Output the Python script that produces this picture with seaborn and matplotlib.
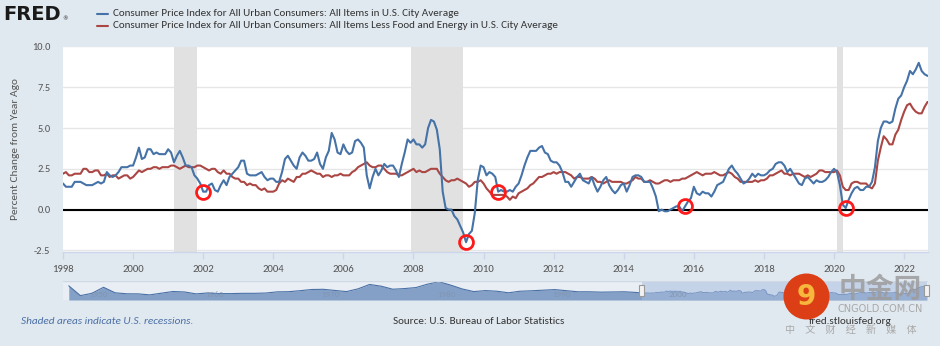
import numpy as np
import pandas as pd
import matplotlib
matplotlib.use("Agg")
import matplotlib.pyplot as plt
import seaborn as sns
from matplotlib import font_manager as fm
from matplotlib.patches import Rectangle, Ellipse
from matplotlib.lines import Line2D
import matplotlib.transforms as mtrans

# ---------------- data ----------------
# CPI all items, percent change from year ago, monthly Jan 1998 - Sep 2022
cpi_all = [
    1.6, 1.4, 1.4, 1.4, 1.7, 1.7, 1.7, 1.6, 1.5, 1.5, 1.5, 1.6,   # 1998
    1.7, 1.6, 1.7, 2.3, 2.1, 2.0, 2.1, 2.3, 2.6, 2.6, 2.6, 2.7,   # 1999
    2.7, 3.2, 3.8, 3.1, 3.2, 3.7, 3.7, 3.4, 3.5, 3.4, 3.4, 3.4,   # 2000
    3.7, 3.5, 2.9, 3.3, 3.6, 3.2, 2.7, 2.7, 2.6, 2.1, 1.9, 1.6,   # 2001
    1.1, 1.1, 1.5, 1.6, 1.2, 1.1, 1.5, 1.8, 1.5, 2.0, 2.2, 2.4,   # 2002
    2.6, 3.0, 3.0, 2.2, 2.1, 2.1, 2.1, 2.2, 2.3, 2.0, 1.8, 1.9,   # 2003
    1.9, 1.7, 1.7, 2.3, 3.1, 3.3, 3.0, 2.7, 2.5, 3.2, 3.5, 3.3,   # 2004
    3.0, 3.0, 3.1, 3.5, 2.8, 2.5, 3.2, 3.6, 4.7, 4.3, 3.5, 3.4,   # 2005
    4.0, 3.6, 3.4, 3.5, 4.2, 4.3, 4.1, 3.8, 2.1, 1.3, 2.0, 2.5,   # 2006
    2.1, 2.4, 2.8, 2.6, 2.7, 2.7, 2.4, 2.0, 2.8, 3.5, 4.3, 4.1,   # 2007
    4.3, 4.0, 4.0, 3.8, 4.0, 5.0, 5.5, 5.4, 4.9, 3.7, 1.1, 0.1,   # 2008
    0.0, 0.0, -0.4, -0.6, -1.0, -1.4, -2.0, -1.5, -1.3, -0.2, 1.8, 2.7,  # 2009
    2.6, 2.1, 2.3, 2.2, 2.0, 1.1, 1.2, 1.1, 1.1, 1.2, 1.1, 1.4,   # 2010
    1.6, 2.1, 2.7, 3.2, 3.6, 3.6, 3.6, 3.8, 3.9, 3.5, 3.4, 3.0,   # 2011
    2.9, 2.9, 2.7, 2.3, 1.7, 1.7, 1.4, 1.7, 2.0, 2.2, 1.8, 1.7,   # 2012
    1.6, 2.0, 1.5, 1.1, 1.4, 1.8, 2.0, 1.5, 1.2, 1.0, 1.2, 1.5,   # 2013
    1.6, 1.1, 1.5, 2.0, 2.1, 2.1, 2.0, 1.7, 1.7, 1.7, 1.3, 0.8,   # 2014
    -0.1, 0.0, -0.1, -0.1, 0.0, 0.1, 0.2, 0.2, -0.1, 0.2, 0.5, 0.7,  # 2015
    1.4, 1.0, 0.9, 1.1, 1.0, 1.0, 0.8, 1.1, 1.5, 1.6, 1.7, 2.1,   # 2016
    2.5, 2.7, 2.4, 2.2, 1.9, 1.6, 1.7, 1.9, 2.2, 2.0, 2.2, 2.1,   # 2017
    2.1, 2.2, 2.4, 2.5, 2.8, 2.9, 2.9, 2.7, 2.3, 2.5, 2.2, 1.9,   # 2018
    1.6, 1.5, 1.9, 2.0, 1.8, 1.6, 1.8, 1.7, 1.7, 1.8, 2.0, 2.3,   # 2019
    2.5, 2.3, 1.5, 0.3, 0.1, 0.6, 1.0, 1.3, 1.4, 1.2, 1.2, 1.4,   # 2020
    1.4, 1.7, 2.6, 4.2, 5.0, 5.4, 5.4, 5.3, 5.4, 6.2, 6.8, 7.0,   # 2021
    7.5, 7.9, 8.5, 8.3, 8.6, 9.0, 8.5, 8.3, 8.2,                  # 2022
]

# CPI less food and energy, percent change from year ago
cpi_core = [
    2.2, 2.3, 2.1, 2.1, 2.2, 2.2, 2.2, 2.5, 2.5, 2.3, 2.3, 2.4,   # 1998
    2.4, 2.1, 2.1, 2.2, 2.0, 2.1, 2.1, 1.9, 2.0, 2.1, 2.1, 1.9,   # 1999
    2.0, 2.2, 2.4, 2.3, 2.4, 2.5, 2.5, 2.6, 2.6, 2.5, 2.6, 2.6,   # 2000
    2.6, 2.7, 2.7, 2.6, 2.5, 2.6, 2.7, 2.6, 2.6, 2.6, 2.7, 2.7,   # 2001
    2.6, 2.5, 2.4, 2.5, 2.5, 2.3, 2.2, 2.4, 2.2, 2.2, 2.0, 1.9,   # 2002
    1.9, 1.7, 1.7, 1.5, 1.6, 1.5, 1.5, 1.3, 1.2, 1.3, 1.1, 1.1,   # 2003
    1.1, 1.2, 1.6, 1.8, 1.7, 1.9, 1.8, 1.7, 2.0, 2.0, 2.2, 2.2,   # 2004
    2.3, 2.4, 2.3, 2.2, 2.2, 2.0, 2.1, 2.1, 2.0, 2.1, 2.1, 2.2,   # 2005
    2.1, 2.1, 2.1, 2.3, 2.4, 2.6, 2.7, 2.8, 2.9, 2.7, 2.6, 2.6,   # 2006
    2.7, 2.7, 2.5, 2.3, 2.2, 2.2, 2.2, 2.1, 2.1, 2.2, 2.3, 2.4,   # 2007
    2.5, 2.3, 2.4, 2.3, 2.3, 2.4, 2.5, 2.5, 2.5, 2.2, 2.0, 1.8,   # 2008
    1.7, 1.8, 1.8, 1.9, 1.8, 1.7, 1.6, 1.4, 1.5, 1.7, 1.7, 1.8,   # 2009
    1.6, 1.3, 1.1, 0.9, 0.9, 0.9, 0.9, 0.9, 0.8, 0.6, 0.8, 0.7,   # 2010
    1.0, 1.1, 1.2, 1.3, 1.5, 1.6, 1.8, 2.0, 2.0, 2.1, 2.2, 2.2,   # 2011
    2.3, 2.2, 2.3, 2.3, 2.3, 2.2, 2.1, 1.9, 2.0, 2.0, 1.9, 1.9,   # 2012
    1.9, 2.0, 1.9, 1.7, 1.7, 1.6, 1.7, 1.8, 1.7, 1.7, 1.7, 1.7,   # 2013
    1.6, 1.6, 1.7, 1.8, 2.0, 1.9, 1.9, 1.7, 1.7, 1.8, 1.7, 1.6,   # 2014
    1.6, 1.7, 1.8, 1.8, 1.7, 1.8, 1.8, 1.8, 1.9, 1.9, 2.0, 2.1,   # 2015
    2.2, 2.3, 2.2, 2.1, 2.2, 2.2, 2.2, 2.3, 2.2, 2.1, 2.1, 2.2,   # 2016
    2.3, 2.2, 2.0, 1.9, 1.7, 1.7, 1.7, 1.7, 1.7, 1.8, 1.7, 1.8,   # 2017
    1.8, 1.9, 2.1, 2.1, 2.2, 2.3, 2.4, 2.2, 2.2, 2.1, 2.2, 2.2,   # 2018
    2.2, 2.1, 2.0, 2.1, 2.0, 2.1, 2.2, 2.4, 2.4, 2.3, 2.3, 2.3,   # 2019
    2.3, 2.4, 2.1, 1.4, 1.2, 1.2, 1.6, 1.7, 1.7, 1.6, 1.6, 1.6,   # 2020
    1.4, 1.3, 1.6, 3.0, 3.8, 4.5, 4.3, 4.0, 4.0, 4.6, 4.9, 5.5,   # 2021
    6.0, 6.4, 6.5, 6.2, 6.0, 5.9, 5.9, 6.3, 6.6,                  # 2022
]
start_month = "1998-01"

# Longer history for the navigator strip (annual, 1948-1997)
hist_years = list(range(1948, 1998))
hist_cpi = [9.5, -1.2, 1.3, 7.9, 1.9, 0.8, 0.7, -0.4, 1.5, 3.3,
            2.8, 0.7, 1.7, 1.0, 1.0, 1.3, 1.3, 1.6, 2.9, 3.1,
            4.2, 5.5, 5.7, 4.4, 3.2, 6.2, 11.0, 9.1, 5.8, 6.5,
            7.6, 11.3, 14.0, 10.3, 6.1, 3.2, 4.3, 3.6, 1.9, 3.6,
            4.1, 4.8, 5.4, 4.2, 3.0, 3.0, 2.6, 2.8, 3.0, 2.3]

recession_start = ["2001-03", "2007-12", "2020-02"]
recession_end = ["2001-11", "2009-06", "2020-04"]
marked_months = ["2002-01", "2009-07", "2010-06", "2015-10", "2020-05"]

x_ticks = list(range(1998, 2023, 2))
y_ticks = [-2.5, 0.0, 2.5, 5.0, 7.5, 10.0]
nav_ticks = [1950, 1960, 1970, 1980, 1990, 2000]

series_all = "Consumer Price Index for All Urban Consumers: All Items in U.S. City Average"
series_core = "Consumer Price Index for All Urban Consumers: All Items Less Food and Energy in U.S. City Average"
y_label = "Percent Change from Year Ago"

# ---------------- helpers ----------------
def dec_year(period):
    p = pd.Period(period, freq="M")
    return p.year + (p.month - 1) / 12.0

months = pd.period_range(start_month, periods=len(cpi_all), freq="M")
xdec = np.array([m.year + (m.month - 1) / 12.0 for m in months])
df = pd.DataFrame({"x": xdec, "all": cpi_all, "core": cpi_core})

BLUE = "#4572a7"
RED = "#aa4643"
BG = "#e1e9f0"
TXT = "#333333"

sns.set_theme(style="white")
regular = {f.name for f in fm.fontManager.ttflist
           if f.style == "normal" and str(f.weight) in ("400", "normal", "regular")}
main_font = "DejaVu Sans"
for cand in ["Carlito", "Lato", "Open Sans", "Liberation Sans"]:
    if cand in regular:
        main_font = cand
        break
plt.rcParams["font.family"] = [main_font, "DejaVu Sans"]
plt.rcParams["font.weight"] = "normal"

W, H = 940, 346
fig = plt.figure(figsize=(W / 100, H / 100), dpi=100)
fig.patch.set_facecolor(BG)

def fx(px):
    return px / W

def fy(py):
    return 1 - py / H

fit_list = []

def fit(t, target, vertical=False):
    fit_list.append((t, target, vertical))
    return t

def size_for(text, target, base=8.0, **kw):
    t = fig.text(0, 0, text, fontsize=base, **kw)
    w = t.get_window_extent(fig.canvas.get_renderer()).width
    t.remove()
    return base * target / w

# ---------------- main axes ----------------
L, R, T, B = 63, 927.5, 46.5, 252
ax = fig.add_axes([fx(L), fy(B), fx(R - L), (B - T) / H])
ax.set_facecolor("white")

for s, e in zip(recession_start, recession_end):
    ax.axvspan(dec_year(s), dec_year(e), color="#e1e1e1", lw=0, zorder=0.6)

ax.axhline(0, color="black", lw=1.5, zorder=1.5)

sns.lineplot(data=df, x="x", y="all", color=BLUE, lw=1.5, ax=ax, zorder=3)
sns.lineplot(data=df, x="x", y="core", color=RED, lw=1.5, ax=ax, zorder=2.5)

mk = df.set_index(pd.Index([str(m) for m in months]))
mx = [mk.loc[m, "x"] for m in marked_months]
my = [mk.loc[m, "all"] for m in marked_months]
ax.plot(mx, my, ls="none", marker="o", ms=10, mfc="none", mec="#ff1a1a", mew=2.0, zorder=4)

ax.set_xlim(xdec[0], xdec[-1])
ax.set_ylim(-2.6, 10.0)
ax.set_yticks(y_ticks)
ax.set_yticklabels([f"{v:.1f}" for v in y_ticks])
ax.set_xticks(x_ticks)
ax.set_xticklabels([str(v) for v in x_ticks])
ax.yaxis.grid(True, color="#e6e6e6", lw=1)
ax.xaxis.grid(False)
ax.set_axisbelow(True)
for sp in ["left", "right", "top"]:
    ax.spines[sp].set_visible(False)
ax.spines["bottom"].set_color("#ccd6eb")
ax.spines["bottom"].set_linewidth(1)
xs = size_for("2000", 22)
ys = size_for("10.0", 18.5)
ax.tick_params(axis="y", length=0, pad=9, labelsize=ys, labelcolor="#555555")
ax.tick_params(axis="x", length=5, width=1, color="#ccd6eb", pad=4,
               labelsize=xs, labelcolor="#555555", bottom=True)
ax.set_xlabel("")
ax.set_ylabel("")

fit(fig.text(fx(16), fy(149), y_label, rotation=90, ha="center", va="center",
             fontsize=8.5, color="#555555"), 140, vertical=True)

# ---------------- header ----------------
fig.text(fx(3), fy(14), "FRED", fontsize=14, fontweight="bold", color="#1a1a1a",
         ha="left", va="center", family="DejaVu Sans")
fig.text(fx(62), fy(19), "®", fontsize=4, color="#1a1a1a", ha="left", va="center",
         family="DejaVu Sans")
fig.add_artist(Line2D([fx(97), fx(108)], [fy(13.5), fy(13.5)], color=BLUE, lw=1.5))
fig.add_artist(Line2D([fx(97), fx(108)], [fy(26), fy(26)], color=RED, lw=1.5))
fit(fig.text(fx(113), fy(13.5), series_all, fontsize=8.3, color=TXT, ha="left", va="center"), 347)
fit(fig.text(fx(113), fy(26), series_core, fontsize=8.3, color=TXT, ha="left", va="center"), 448)

# ---------------- navigator ----------------
nav = fig.add_axes([fx(L), fy(300), fx(R - L), 19 / H])
nav.set_facecolor("#e9eef5")
nav_x = np.concatenate([np.array(hist_years) + 0.5, xdec])
nav_y = np.concatenate([np.array(hist_cpi), np.array(cpi_all)])
nav_df = pd.DataFrame({"x": nav_x, "y": nav_y})
nav.fill_between(nav_df["x"], nav_df["y"], -6, color="#85a0c6", lw=0, zorder=1)
sns.lineplot(data=nav_df, x="x", y="y", color="#4a70a6", lw=0.8, ax=nav, zorder=2)
nav.axvspan(xdec[0], xdec[-1], color="#a8bde0", alpha=0.55, lw=0, zorder=3)
nav.set_xlim(1948.0, xdec[-1] + 0.05)
nav.set_ylim(-6, 14.8)
nav.set_xticks([])
nav.set_yticks([])
nav.set_xlabel("")
nav.set_ylabel("")
for sp in nav.spines.values():
    sp.set_visible(False)
nav.axhline(14.8, color="#cfd8e3", lw=1, zorder=4)
btr = mtrans.blended_transform_factory(nav.transData, nav.transAxes)
for t in nav_ticks:
    nav.text(t + 0.3, 0.3, str(t), transform=btr,
             fontsize=6.5, color="#7f93ad", alpha=0.8, ha="left", va="center", zorder=5)
for hx in [xdec[0], xdec[-1]]:
    nav.add_patch(Rectangle((hx - 0.22, 0.2), 0.44, 0.6, transform=btr, facecolor="#f2f2f2",
                            edgecolor="#999999", lw=0.8, zorder=6, clip_on=False))

# ---------------- footer ----------------
fit(fig.text(fx(21), fy(321), "Shaded areas indicate U.S. recessions.", fontsize=8.3,
             style="italic", color="#4a6fa5", ha="left", va="center"), 172)
fit(fig.text(fx(393), fy(321), "Source: U.S. Bureau of Labor Statistics", fontsize=8.3,
             color=TXT, ha="left", va="center"), 172)
fit(fig.text(fx(809), fy(321), "fred.stlouisfed.org", fontsize=8.3, color=TXT,
             ha="left", va="center"), 83)

# ---------------- watermark ----------------
fig.add_artist(Ellipse((fx(806.5), fy(296.5)), 46 / W, 46 / H, facecolor="#dc3f16",
                       edgecolor="none", zorder=10))
fig.text(fx(806), fy(297), "9", fontsize=20, fontweight="bold", color="#f6b73c",
         ha="center", va="center", family="DejaVu Sans", zorder=11)
cjk = ["Noto Sans CJK SC", "DejaVu Sans"]
fig.text(fx(880), fy(290), "中金网", fontsize=20, fontweight="bold", color="#9c9c9c",
         alpha=0.85, ha="center", va="center", family=cjk, zorder=10)
fit(fig.text(fx(880.5), fy(309.5), "CNGOLD.COM.CN", fontsize=6.0, color="#a8a8a8",
             ha="center", va="center", family="DejaVu Sans", zorder=10), 86)
fit(fig.text(fx(851), fy(330), "中　文　财　经　新　媒　体", fontsize=6.5, color="#a8a8a8",
             ha="center", va="center", family=cjk, zorder=10), 131)

# ---------------- fit text widths to the reference ----------------
fig.canvas.draw()
r = fig.canvas.get_renderer()
for t, target, vertical in fit_list:
    bb = t.get_window_extent(r)
    size = bb.height if vertical else bb.width
    t.set_fontsize(t.get_fontsize() * target / size)

fig.savefig("out.png", dpi=100, facecolor=BG)
